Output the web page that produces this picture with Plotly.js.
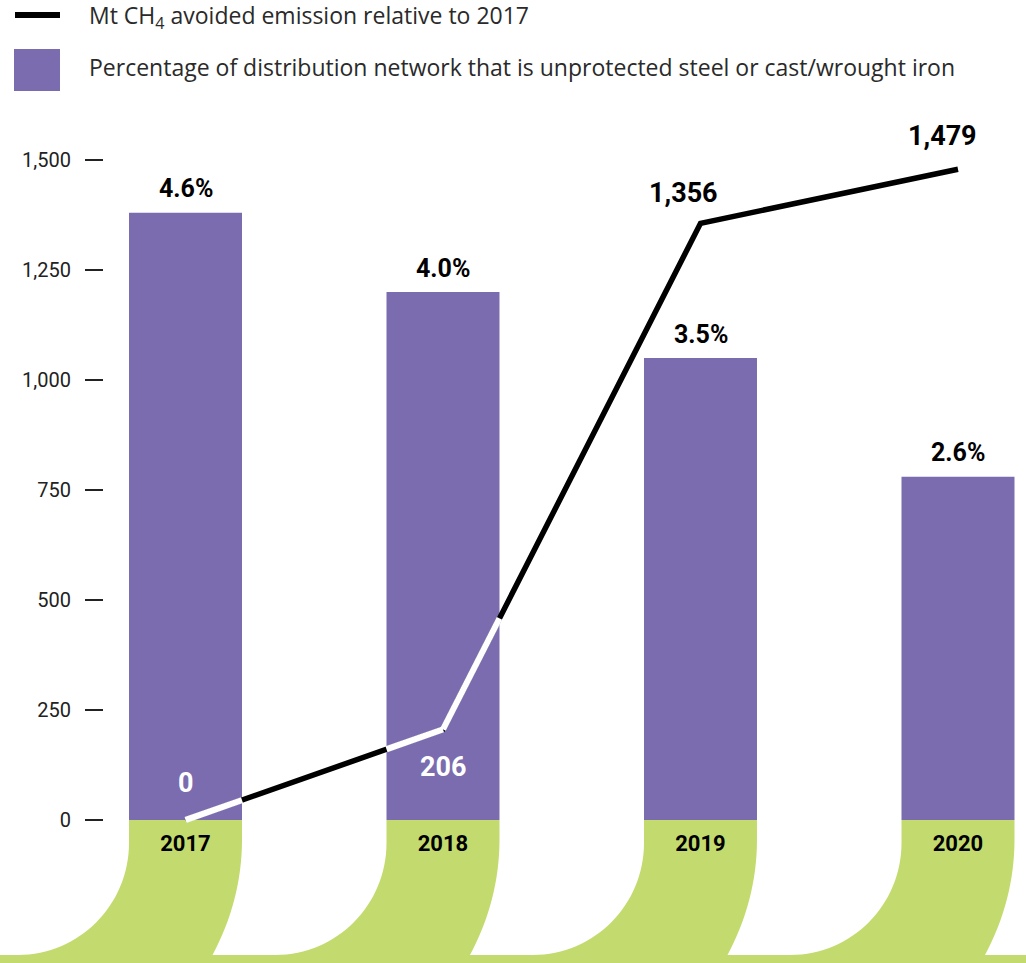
<!DOCTYPE html>
<html>
<head>
<meta charset="utf-8">
<script src="https://cdn.plot.ly/plotly-3.0.1.min.js"></script>
<style>
  html, body { margin: 0; padding: 0; background: #ffffff; }
  #chart { width: 1026px; height: 963px; }
</style>
</head>
<body>
<div id="chart"></div>
<script>
// ---------- data ----------
const years = ['2017', '2018', '2019', '2020'];
const avoidedEmission = [0, 206, 1356, 1479];          // Mt CH4 avoided relative to 2017
const pctUnprotected = [4.6, 4.0, 3.5, 2.6];           // % of network unprotected steel / cast iron
const yTickVals = [0, 250, 500, 750, 1000, 1250, 1500];
const legendLine = 'Mt CH<sub>4</sub> avoided emission relative to 2017';
const legendBar = 'Percentage of distribution network that is unprotected steel or cast/wrought iron';

// ---------- geometry / style ----------
const W = 1026, H = 963;
const M = { l: 0, r: 0, t: 100, b: 0 };
const PH = H - M.t - M.b;
const X_RANGE = [-0.7204, 3.2641];
const Y_LINE_RANGE = [-325, 1636.36];
const BAR_SCALE = 300;                                   // 1 % ↔ 300 on the emission axis
const Y_BAR_RANGE = Y_LINE_RANGE.map(v => v / BAR_SCALE);
const BAR_W = 0.4388;
const PURPLE = '#7a6caf';
const GREEN = '#c3db6e';
const LINE_W = 5.5;

const pxPerX = W / (X_RANGE[1] - X_RANGE[0]);
const pxPerY = PH / (Y_LINE_RANGE[1] - Y_LINE_RANGE[0]);
const dx = px => px / pxPerX;            // pixel offset -> x units
const dy = px => -px / pxPerY;           // pixel offset downward -> y units
const paperX = px => px / W;
const paperY = py => (H - M.b - py) / PH;

const xs = years.map((_, i) => i);

// white part of the line: portions inside bars
function whiteSegments() {
  const out = { x: [], y: [] };
  xs.forEach((c, i) => {
    const lo = c - BAR_W / 2, hi = c + BAR_W / 2;
    const top = pctUnprotected[i] * BAR_SCALE;
    for (let k = 0; k < xs.length - 1; k++) {
      const x0 = xs[k], y0 = avoidedEmission[k], x1 = xs[k + 1], y1 = avoidedEmission[k + 1];
      const a = Math.max(x0, lo), b = Math.min(x1, hi);
      if (a >= b) continue;
      const f = x => y0 + (y1 - y0) * (x - x0) / (x1 - x0);
      let pa = [a, f(a)], pb = [b, f(b)];
      if (pa[1] > top && pb[1] > top) continue;
      if (pa[1] > top || pb[1] > top) {
        const xt = x0 + (top - y0) * (x1 - x0) / (y1 - y0);
        if (pa[1] > top) pa = [xt, top]; else pb = [xt, top];
      }
      out.x.push(pa[0], pb[0], null);
      out.y.push(pa[1], pb[1], null);
    }
  });
  return out;
}
const ws = whiteSegments();

const traces = [
  {
    type: 'bar', x: xs, y: pctUnprotected, width: BAR_W,
    marker: { color: PURPLE, line: { width: 0 } },
    xaxis: 'x', yaxis: 'y', hoverinfo: 'skip', showlegend: false
  },
  {
    type: 'scatter', mode: 'lines', x: xs, y: avoidedEmission,
    line: { color: '#000000', width: LINE_W },
    xaxis: 'x', yaxis: 'y2', hoverinfo: 'skip', showlegend: false
  },
  {
    type: 'scatter', mode: 'lines', x: ws.x, y: ws.y,
    line: { color: '#ffffff', width: LINE_W + 0.6 },
    xaxis: 'x', yaxis: 'y2', connectgaps: false, hoverinfo: 'skip', showlegend: false
  }
];

// green "feet" under each bar
const shapes = [];
xs.forEach(c => {
  const L = c - BAR_W / 2, R = c + BAR_W / 2;
  const k = 0.5523, rx = 111, ry = 112, cy = 23;
  const cx = L - dx(rx);
  const p = [
    `M ${L},0`, `L ${R},0`, `L ${R},${dy(20)}`,
    `C ${R},${dy(60)} ${R - dx(10.3)},${dy(100)} ${R - dx(30)},${dy(136)}`,
    `L ${cx},${dy(136)}`,
    `L ${cx},${dy(cy + ry)}`,
    `C ${cx + dx(k * rx)},${dy(cy + ry)} ${L},${dy(cy + k * ry)} ${L},${dy(cy)}`,
    'Z'
  ].join(' ');
  shapes.push({ type: 'path', xref: 'x', yref: 'y2', path: p, fillcolor: GREEN, line: { width: 0 }, layer: 'below' });
});
shapes.push({ type: 'rect', xref: 'paper', yref: 'y2', x0: 0, x1: 1, y0: dy(135), y1: Y_LINE_RANGE[0] - 10,
  fillcolor: GREEN, line: { width: 0 }, layer: 'below' });
// legend swatches
shapes.push({ type: 'line', xref: 'paper', yref: 'paper', x0: paperX(15), x1: paperX(60), y0: paperY(15), y1: paperY(15),
  line: { color: '#000000', width: 6 } });
shapes.push({ type: 'rect', xref: 'paper', yref: 'paper', x0: paperX(14), x1: paperX(60), y0: paperY(49), y1: paperY(91),
  fillcolor: PURPLE, line: { width: 0 } });

const annotations = [];
// bar labels
xs.forEach((c, i) => {
  annotations.push({ xref: 'x', yref: 'y', x: c, y: pctUnprotected[i], text: pctUnprotected[i].toFixed(1) + '%',
    showarrow: false, xanchor: 'center', yanchor: 'middle', yshift: 24,
    font: { family: 'Roboto', size: 25, weight: 700, color: '#000000' } });
});
// line labels
const lblShift = [[0, 37, '#ffffff'], [0, -38, '#ffffff'], [-17, 30, '#000000'], [-15, 33, '#000000']];
xs.forEach((c, i) => {
  annotations.push({ xref: 'x', yref: 'y2', x: c, y: avoidedEmission[i],
    text: avoidedEmission[i].toLocaleString('en-US'),
    showarrow: false, xanchor: 'center', yanchor: 'middle', xshift: lblShift[i][0], yshift: lblShift[i][1],
    font: { family: 'Roboto', size: 27, weight: 700, color: lblShift[i][2] } });
});
// legend texts
annotations.push({ xref: 'paper', yref: 'paper', x: paperX(87), y: paperY(16), text: legendLine,
  showarrow: false, xanchor: 'left', yanchor: 'middle',
  font: { family: 'Open Sans', size: 23, color: '#2a2a2a' } });
annotations.push({ xref: 'paper', yref: 'paper', x: paperX(87), y: paperY(67), text: legendBar,
  showarrow: false, xanchor: 'left', yanchor: 'middle',
  font: { family: 'Open Sans', size: 23, color: '#2a2a2a' } });

const layout = {
  width: W, height: H, margin: M,
  paper_bgcolor: '#ffffff', plot_bgcolor: 'rgba(0,0,0,0)',
  showlegend: false,
  font: { family: 'Roboto', color: '#222222' },
  xaxis: {
    type: 'linear', range: X_RANGE, anchor: 'free', position: paperY(820),
    tickvals: xs, ticktext: years, ticks: '', showgrid: false, zeroline: false, showline: false,
    tickfont: { family: 'Roboto', size: 22, weight: 700, color: '#000000' }, ticklabelstandoff: 8,
    fixedrange: true
  },
  yaxis: {
    range: Y_BAR_RANGE, visible: false, fixedrange: true
  },
  yaxis2: {
    range: Y_LINE_RANGE, overlaying: 'y', anchor: 'free', position: paperX(103), side: 'left',
    tickvals: yTickVals, tickformat: ',d', ticks: 'outside', ticklen: 18, tickwidth: 1.3, tickcolor: '#222222',
    showgrid: false, zeroline: false, showline: false,
    tickfont: { family: 'Roboto', size: 20, color: '#222222' }, ticklabelstandoff: 10,
    fixedrange: true
  },
  shapes: shapes,
  annotations: annotations
};

Plotly.newPlot('chart', traces, layout, { displayModeBar: false, staticPlot: true });
</script>
</body>
</html>
